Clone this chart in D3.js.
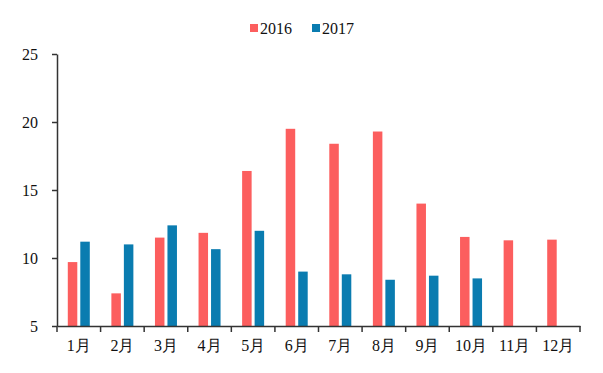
<!DOCTYPE html>
<html><head><meta charset="utf-8">
<script src="https://cdn.jsdelivr.net/npm/d3@7"></script>
<style>body{margin:0;background:#fff}</style>
</head><body>
<svg id="c" width="603" height="373"></svg>
<script>
const months = ["1月","2月","3月","4月","5月","6月","7月","8月","9月","10月","11月","12月"];
const series = ["2016","2017"];
const v2016 = [9.7,7.4,11.5,11.85,16.4,19.5,18.4,19.3,14.0,11.55,11.3,11.35];
const v2017 = [11.2,11.0,12.4,10.65,12.0,9.0,8.8,8.4,8.7,8.5,null,null];
const yTicks = [5,10,15,20,25];
const colors = {"2016":"#FC5E5E","2017":"#0A7CB0"};

const svg = d3.select("#c");
const m = {l:57, r:23, t:54, b:47};
const W = 603, H = 373;
const x = d3.scaleBand().domain(months).range([m.l, W-m.r]);
const y = d3.scaleLinear().domain([5,25]).range([H-m.b, m.t]);
const bw = 9.5, gap = 3;
const font = "'Liberation Serif','Times New Roman',serif";

const data = months.map((mo,i)=>({mo, a:v2016[i], b:v2017[i]}));
const g = svg.append("g");
data.forEach(d=>{
  const c = x(d.mo)+x.bandwidth()/2;
  if(d.a!=null) g.append("rect").attr("x",c-gap/2-bw).attr("width",bw)
     .attr("y",y(d.a)).attr("height",y(5)-y(d.a)).attr("fill",colors["2016"]);
  if(d.b!=null) g.append("rect").attr("x",c+gap/2).attr("width",bw)
     .attr("y",y(d.b)).attr("height",y(5)-y(d.b)).attr("fill",colors["2017"]);
});

const ya = svg.append("g").attr("transform",`translate(${m.l},0)`)
  .call(d3.axisLeft(y).tickValues(yTicks).tickSize(5).tickPadding(14).tickSizeOuter(0));
ya.select(".domain").attr("stroke","#333").attr("stroke-width",1.5);
ya.selectAll("line").attr("stroke","#333").attr("stroke-width",1.5);
ya.selectAll("text").attr("font-family",font).attr("font-size",16).attr("fill","#111");

const xa = svg.append("g").attr("transform",`translate(0,${y(5)})`)
  .call(d3.axisBottom(x).tickSize(0).tickPadding(14));
xa.select(".domain").attr("stroke","#333").attr("stroke-width",1.5);
xa.selectAll("text").attr("font-family",font).attr("font-size",16).attr("fill","#111");
// boundary ticks
const bounds = months.map(mo=>x(mo)).concat([x(months[months.length-1])+x.bandwidth()]);
svg.append("g").selectAll("line").data(bounds).join("line")
  .attr("x1",d=>d).attr("x2",d=>d).attr("y1",y(5)).attr("y2",y(5)+6)
  .attr("stroke","#333").attr("stroke-width",1.5);

const lg = svg.append("g");
const lx = [250, 312];
series.forEach((s,i)=>{
  lg.append("rect").attr("x",lx[i]).attr("y",24).attr("width",8).attr("height",8).attr("fill",colors[s]);
  lg.append("text").attr("x",lx[i]+10).attr("y",34).text(s)
    .attr("font-family",font).attr("font-size",16).attr("fill","#111");
});
</script>
</body></html>
